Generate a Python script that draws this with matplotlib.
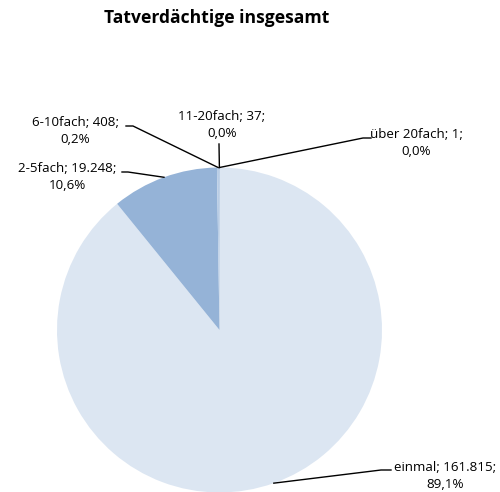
import numpy as np
import matplotlib
matplotlib.use("Agg")
import matplotlib.pyplot as plt

categories = ["einmal", "2-5fach", "6-10fach", "11-20fach", "über 20fach"]
values = [161815, 19248, 408, 37, 1]
colors = ["#DCE6F2", "#95B3D7", "#B9CDE5", "#4F81BD", "#376092"]

# label layout in pixel coords (text centre x, centre y of the two lines)
label_pos = [(445, 476), (67, 177), (75, 131), (222, 125), (416, 143)]
leader_knee = [(391, 470), (122, 172), (126, 126), (219, 144), (371, 138)]
leader_tail = [(381, 470), (128, 172), (133, 126), (219, 144), (363, 138)]

W, H = 500, 492
plt.rcParams["font.family"] = ["Open Sans", "DejaVu Sans"]

fig = plt.figure(figsize=(W / 100, H / 100), dpi=100)
ax = fig.add_axes([0, 0, 1, 1])


def py(y):
    return H - y


cx, cy, r = 219.5, py(330), 162.5
wedges, _ = ax.pie(values, colors=colors, startangle=90, counterclock=False,
                   center=(cx, cy), radius=r, frame=True,
                   wedgeprops=dict(linewidth=0))
ax.set_xlim(0, W)
ax.set_ylim(0, H)
ax.axis("off")

total = sum(values)
for i, (name, v) in enumerate(zip(categories, values)):
    pct = f"{v / total * 100:.1f}".replace(".", ",")
    num = f"{v:,}".replace(",", ".")
    tx, ty = label_pos[i]
    ax.text(tx, py(ty), f"{name}; {num};\n{pct}%", ha="center", va="center",
            fontsize=9.6, linespacing=1.45, color="black")
    w = wedges[i]
    mid = np.deg2rad((w.theta1 + w.theta2) / 2)
    ex, ey = cx + r * np.cos(mid), cy + r * np.sin(mid)
    kx, ky = leader_knee[i]
    lx, ly = leader_tail[i]
    ax.plot([kx, lx, ex], [py(ky), py(ly), ey], color="black", lw=1.0)

ax.text(217, py(18), "Tatverdächtige insgesamt", ha="center", va="center",
        fontsize=12.6, fontweight="bold", color="black")

fig.savefig("out.png", dpi=100)
